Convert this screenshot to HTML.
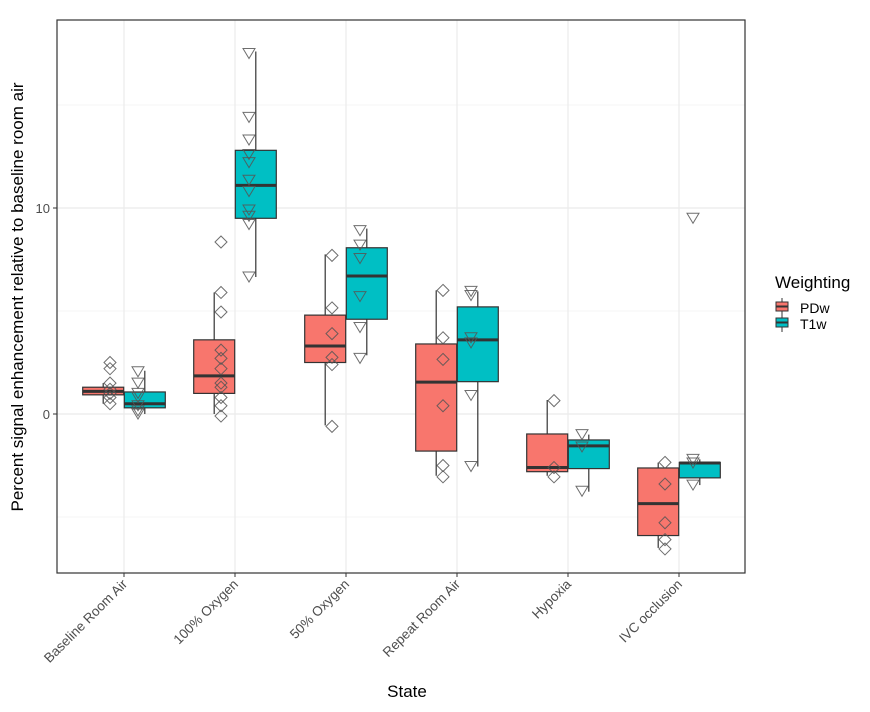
<!DOCTYPE html>
<html><head><meta charset="utf-8"><style>
body{margin:0;background:#fff}
svg{display:block;font-family:"Liberation Sans",Arial,sans-serif}
</style></head><body>
<svg id="chart" width="870" height="712" viewBox="0 0 870 712" xmlns="http://www.w3.org/2000/svg">
<rect width="870" height="712" fill="#fff"/>
<g id="grid"></g>
<g id="marks"></g>
<rect x="57" y="20" width="688" height="553" fill="none" stroke="#333" stroke-width="1.2"/>
<g id="axes"></g>
<text x="407" y="697" font-size="17" text-anchor="middle" fill="#000">State</text>
<text transform="translate(23,297) rotate(-90)" font-size="17" text-anchor="middle" fill="#000">Percent signal enhancement relative to baseline room air</text>
<g>
<text x="775" y="288" font-size="17" fill="#000">Weighting</text>
<g>
<line x1="782" y1="298" x2="782" y2="316" stroke="#333"/>
<rect x="776" y="302" width="12" height="9" fill="#F8766D" stroke="#333"/>
<line x1="776" y1="306.5" x2="788" y2="306.5" stroke="#333" stroke-width="2"/>
<text x="800" y="313" font-size="14" fill="#000">PDw</text></g>
<g>
<line x1="782" y1="314" x2="782" y2="332" stroke="#333"/>
<rect x="776" y="318" width="12" height="9" fill="#00BFC4" stroke="#333"/>
<line x1="776" y1="322.5" x2="788" y2="322.5" stroke="#333" stroke-width="2"/>
<text x="800" y="329" font-size="14" fill="#000">T1w</text></g>
</g>
</svg>
<script>
const categories=["Baseline Room Air","100% Oxygen","50% Oxygen","Repeat Room Air","Hypoxia","IVC occlusion"];
const yTicks=[0,10];
const yMinor=[-5,5,15];
// [low whisker, q1, median, q3, high whisker]
const pdwStats=[[0.5,0.93,1.1,1.3,1.5],[0,1.0,1.85,3.6,5.9],[-0.55,2.5,3.3,4.8,7.75],[-3.0,-1.8,1.55,3.4,6.0],[-3.0,-2.8,-2.6,-0.97,0.68],[-6.5,-5.9,-4.35,-2.62,-2.36]];
const t1wStats=[[0,0.3,0.5,1.07,2.1],[6.65,9.5,11.1,12.8,17.6],[2.85,4.6,6.7,8.07,9.0],[-2.55,1.57,3.6,5.2,5.95],[-3.77,-2.65,-1.55,-1.26,-1.0],[-3.45,-3.1,-2.38,-2.35,-2.2]];
const pdwPoints=[[2.5,2.2,1.5,1.2,1.0,0.8,0.5],[8.35,5.9,4.95,3.1,2.7,2.2,1.5,1.3,0.8,0.4,-0.1],[7.7,5.15,3.9,2.75,2.4,-0.6],[6.0,3.7,2.65,0.4,-2.5,-3.05],[0.65,-2.6,-3.05],[-2.35,-3.4,-5.28,-6.1,-6.55]];
const t1wPoints=[[2.05,1.5,1.0,0.8,0.4,0.15,0],[17.5,14.4,13.3,12.6,12.2,11.35,10.8,9.9,9.6,9.2,6.65],[8.9,8.2,7.55,5.7,4.2,2.7],[5.95,5.75,3.7,3.45,0.9,-2.55],[-1.0,-1.6,-3.75],[9.5,-2.2,-2.38,-3.45]];
const NS="http://www.w3.org/2000/svg";
const X=i=>124+i*111;
const Y=v=>414-v*20.6;
function mk(p,t,a){const e=document.createElementNS(NS,t);for(const k in a)e.setAttribute(k,a[k]);p.appendChild(e);return e;}
const grid=document.getElementById('grid'),marks=document.getElementById('marks'),axes=document.getElementById('axes');
yMinor.forEach(v=>{const l=mk(grid,'line',{x1:57,x2:745,y1:Y(v),y2:Y(v),stroke:'#f2f2f2','stroke-width':0.8});

});
yTicks.forEach(v=>{const l=mk(grid,'line',{x1:57,x2:745,y1:Y(v),y2:Y(v),stroke:'#ebebeb','stroke-width':1.2});


const t=mk(axes,'text',{x:50,y:Y(v)+5,'text-anchor':'end','font-size':13,fill:'#4d4d4d'});t.textContent=v;


mk(axes,'line',{x1:53,x2:57,y1:Y(v),y2:Y(v),stroke:'#333'});});
categories.forEach((c,i)=>{const l=mk(grid,'line',{x1:X(i),x2:X(i),y1:20,y2:573,stroke:'#ebebeb','stroke-width':1.2});


mk(axes,'line',{x1:X(i),x2:X(i),y1:573,y2:577,stroke:'#333'});
const t=mk(axes,'text',{transform:`translate(${X(i)+4},585) rotate(-45)`,'text-anchor':'end','font-size':13.5,fill:'#4d4d4d'});t.textContent=c;

});
function box(s,cx,fill,name){const g=mk(marks,'g',{});


mk(g,'line',{x1:cx,x2:cx,y1:Y(s[4]),y2:Y(s[0]),stroke:'#333','stroke-width':1.2});
mk(g,'rect',{x:cx-20.5,y:Y(s[3]),width:41,height:Y(s[1])-Y(s[3]),fill:fill,stroke:'#333','stroke-width':1.2});
mk(g,'line',{x1:cx-20.5,x2:cx+20.5,y1:Y(s[2]),y2:Y(s[2]),stroke:'#333','stroke-width':3});}
function diamond(x,v){const y=Y(v);const p=mk(marks,'polygon',{points:`${x},${y-6} ${x+6},${y} ${x},${y+6} ${x-6},${y}`,fill:'none',stroke:'#555','stroke-width':1,opacity:0.85});

}
function tri(x,v){const y=Y(v);const p=mk(marks,'polygon',{points:`${x-6},${y-5} ${x+6},${y-5} ${x},${y+5}`,fill:'none',stroke:'#555','stroke-width':1,opacity:0.85});

}
categories.forEach((c,i)=>{
box(pdwStats[i],X(i)-20.8,'#F8766D','pdw-box');
box(t1wStats[i],X(i)+20.8,'#00BFC4','t1w-box');
pdwPoints[i].forEach(v=>diamond(X(i)-14,v));
t1wPoints[i].forEach(v=>tri(X(i)+14,v));});
</script>
</body></html>
